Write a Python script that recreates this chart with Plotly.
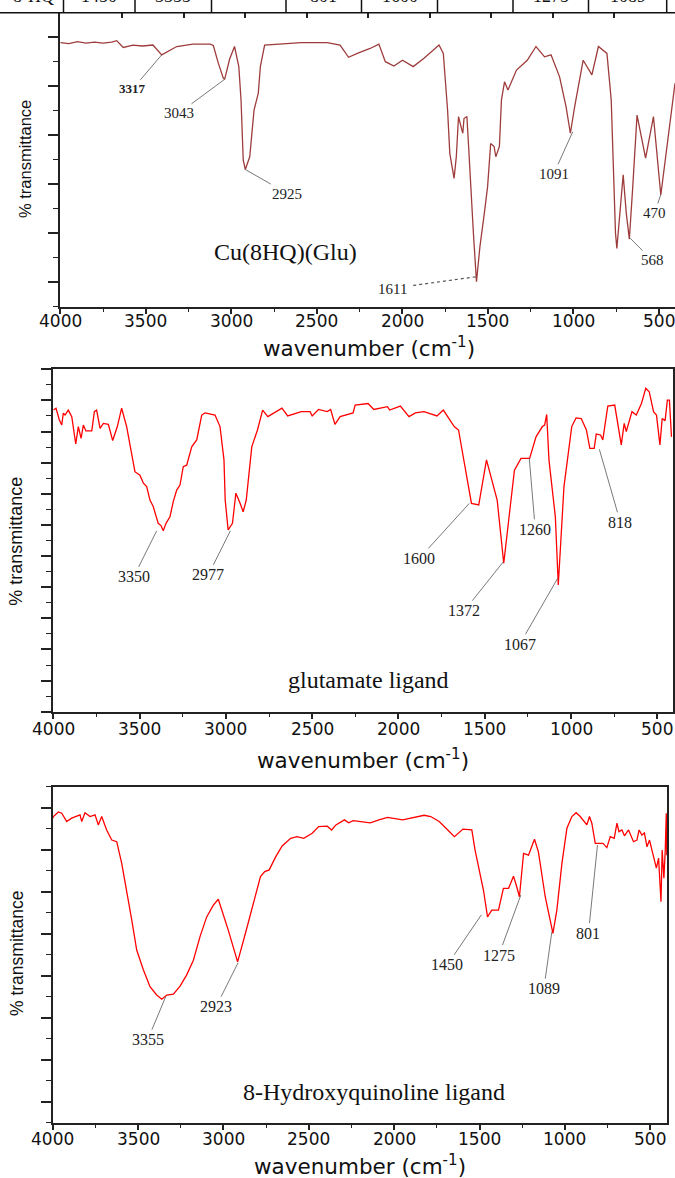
import numpy as np
import plotly.graph_objects as go

W, H = 675, 1178

# ---------------- data ----------------
# Cu(8HQ)(Glu) complex
cu_wn = [4000, 3950, 3900, 3850, 3800, 3750, 3700, 3670, 3632, 3600, 3575, 3520, 3458, 3407,
         3360, 3319, 3224, 3124, 3105, 3076, 3047, 3039, 3010, 2981, 2956, 2943, 2930, 2918,
         2892, 2867, 2842, 2830, 2805, 2700, 2591, 2439, 2364, 2314, 2263, 2188, 2137, 2099,
         2049, 1999, 1936, 1873, 1785, 1760, 1735, 1722, 1697, 1684, 1671, 1654, 1646, 1639,
         1622, 1613, 1596, 1584, 1566, 1546, 1520, 1501, 1483, 1463, 1453, 1432, 1420, 1402,
         1382, 1332, 1269, 1218, 1168, 1130, 1080, 1042, 1017, 992, 942, 891, 853, 803, 778,
         753, 745, 727, 708, 690, 672, 652, 627, 577, 531, 488, 405]
cu_t = [48.9, 48.7, 49.1, 48.8, 49.0, 48.8, 49.0, 49.3, 47.9, 48.2, 48.4, 48.2, 48.4, 46.4,
        47.4, 48.1, 48.6, 48.6, 48.3, 44.7, 41.7, 41.4, 45.5, 48.1, 44.0, 37.2, 24.9, 23.0,
        25.6, 35.1, 38.6, 44.0, 48.4, 48.7, 48.9, 48.9, 48.4, 45.9, 46.7, 47.7, 48.6, 45.0,
        44.1, 45.3, 44.0, 45.7, 48.4, 46.7, 35.1, 26.3, 21.2, 25.6, 33.8, 31.4, 30.4, 33.4,
        33.8, 28.3, 16.8, 10.0, 0.1, 7.2, 14.1, 19.5, 28.3, 27.7, 25.6, 27.7, 37.2, 40.9,
        39.2, 43.3, 45.3, 48.1, 46.0, 46.4, 41.9, 35.8, 30.4, 35.8, 45.3, 42.3, 48.1, 46.7, 37.2,
        10.0, 6.9, 14.1, 21.9, 14.1, 8.8, 19.5, 34.1, 25.3, 33.8, 17.8, 40.6]

# glutamate ligand
glu_wn = [4000, 3984, 3965, 3951, 3942, 3932, 3913, 3893, 3870, 3855, 3839, 3826, 3811, 3777,
          3762, 3749, 3729, 3710, 3681, 3656, 3629, 3604, 3575, 3546, 3527, 3498, 3478, 3459,
          3440, 3421, 3392, 3376, 3363, 3347, 3324, 3305, 3285, 3266, 3247, 3227, 3198, 3169,
          3140, 3121, 3092, 3063, 3034, 3018, 3011, 3004, 2987, 2962, 2942, 2917, 2900, 2882,
          2850, 2817, 2787, 2757, 2712, 2675, 2642, 2563, 2512, 2500, 2463, 2413, 2393, 2368,
          2338, 2263, 2251, 2176, 2143, 2064, 2051, 1989, 1939, 1902, 1852, 1777, 1740, 1702,
          1677, 1652, 1615, 1577, 1535, 1490, 1428, 1390, 1328, 1290, 1240, 1203, 1166, 1153,
          1141, 1128, 1091, 1074, 1041, 996, 971, 941, 911, 891, 866, 854, 829, 816, 787, 747,
          709, 692, 680, 647, 622, 592, 567, 547, 522, 505, 485, 472, 455, 442, 430, 418]
glu_t = [96.9, 97.5, 93.7, 92.1, 95.9, 95.3, 96.9, 94.8, 86.0, 91.6, 87.8, 92.1, 90.2, 90.2,
         96.4, 96.9, 91.0, 92.6, 92.3, 87.1, 91.6, 97.5, 91.6, 83.0, 77.1, 76.0, 73.4, 72.3,
         68.0, 65.9, 60.5, 59.8, 58.1, 60.5, 62.6, 67.5, 71.2, 72.8, 78.7, 79.2, 85.1, 87.3,
         95.3, 96.0, 95.6, 95.3, 91.6, 85.1, 80.9, 68.0, 58.4, 60.5, 70.2, 66.9, 64.2, 68.0,
         85.1, 90.5, 96.9, 94.8, 96.4, 97.5, 95.0, 96.4, 96.4, 95.0, 97.1, 96.4, 97.1, 92.3,
         94.8, 96.0, 98.5, 99.0, 97.1, 98.0, 96.9, 98.2, 94.8, 96.0, 96.4, 95.0, 96.9, 93.7,
         91.6, 90.5, 78.7, 66.9, 66.4, 80.9, 68.0, 47.7, 77.6, 81.4, 81.4, 88.3, 91.6, 92.1,
         95.5, 80.9, 62.6, 40.7, 72.3, 91.6, 94.4, 94.2, 90.5, 84.6, 84.6, 89.2, 88.9, 87.3, 98.2, 98.5,
         85.7, 92.6, 90.0, 96.4, 95.3, 99.0, 103.9, 102.8, 96.4, 95.3, 85.7, 94.2, 93.5, 100.1, 100.1, 88.3]

# 8-hydroxyquinoline ligand
hq_wn = [4000, 3996, 3967, 3947, 3918, 3889, 3840, 3830, 3811, 3781, 3752, 3733, 3713, 3684,
         3654, 3625, 3596, 3566, 3537, 3508, 3469, 3430, 3391, 3361, 3332, 3293, 3254, 3215,
         3176, 3137, 3098, 3059, 3030, 2972, 2917, 2871, 2820, 2783, 2758, 2732, 2694, 2656,
         2606, 2569, 2530, 2480, 2442, 2392, 2366, 2341, 2291, 2266, 2240, 2140, 2089, 2039,
         1950, 1900, 1824, 1786, 1736, 1686, 1647, 1597, 1560, 1545, 1526, 1496, 1477, 1453,
         1428, 1389, 1360, 1330, 1301, 1285, 1266, 1242, 1213, 1178, 1155, 1115, 1070, 1047,
         1017, 988, 959, 934, 910, 871, 856, 842, 822, 777, 754, 734, 711, 695, 683, 666, 651,
         627, 598, 578, 565, 549, 534, 519, 504, 490, 464, 451, 437, 430, 420, 412, 406, 403]
hq_t = [67.5, 67.9, 69.0, 68.7, 66.7, 67.5, 68.3, 66.7, 68.8, 67.9, 68.3, 65.9, 67.9, 64.7,
        62.3, 61.9, 56.8, 50.4, 43.3, 36.1, 31.4, 27.4, 25.4, 24.4, 25.4, 25.6, 27.5, 30.2,
        33.7, 39.3, 44.0, 46.8, 48.2, 40.9, 33.3, 40.1, 48.0, 53.6, 54.8, 55.2, 58.3, 60.9,
        62.7, 63.1, 62.7, 63.9, 65.5, 65.6, 64.7, 65.9, 67.1, 66.4, 66.9, 66.4, 67.1, 67.7,
        67.1, 67.5, 68.2, 67.9, 66.7, 64.7, 63.1, 64.9, 64.7, 64.7, 59.9, 53.6, 50.4, 44.0,
        45.6, 45.6, 50.8, 50.8, 53.7, 51.6, 48.8, 59.1, 58.7, 62.5, 59.5, 48.8, 40.1, 45.6,
        56.8, 65.1, 67.9, 68.8, 67.9, 65.9, 67.9, 66.3, 61.5, 61.5, 60.5, 63.1, 62.7, 66.3, 64.3, 64.7, 63.3,
        64.7, 61.9, 62.3, 64.7, 63.5, 64.0, 60.7, 62.3, 59.9, 55.6, 58.0, 47.6, 59.9, 53.2, 59.9, 68.7, 58.7]

# peak labels: text, wavenumber and transmittance where the leader line ends
cu_peak_labels = ["3317", "3043", "2925", "1611", "1091", "568", "470"]
cu_peak_wn = [3407, 3039, 2918, 1571, 1003, 668, 489]
cu_peak_t = [46.4, 41.4, 23.0, 1.1, 30.7, 9.0, 17.8]

glu_peak_labels = ["3350", "2977", "1600", "1372", "1260", "1067", "818"]
glu_peak_wn = [3401, 2974, 1590, 1392, 1242, 1077, 836]
glu_peak_t = [58.1, 58.1, 66.9, 48.2, 81.4, 42.9, 84.3]

hq_peak_labels = ["3355", "2923", "1450", "1275", "1089", "801"]
hq_peak_wn = [3338, 2914, 1489, 1258, 1076, 809]
hq_peak_t = [25.0, 33.1, 44.5, 49.2, 40.5, 61.1]

panel_titles = ["Cu(8HQ)(Glu)", "glutamate ligand", "8-Hydroxyquinoline ligand"]
x_title = "wavenumber (cm<sup>-1</sup>)"
y_title = "% transmittance"
x_tick_vals = [4000, 3500, 3000, 2500, 2000, 1500, 1000, 500]
x_tick_text = ["4000", "3500", "3000", "2500", "2000", "1500", "1000", "500"]
table_cells = ["8-HQ", "1450", "3355", "", "801", "1600", "", "1275", "1089"]
top_tick_wn = [3637, 3278, 2918, 2558, 2199, 1839, 1480, 1120, 760]

# ---------------- layout helpers (pixel positions) ----------------
def fx(p):
    return p / W


def fy(p):
    return 1 - p / H


SERIF = "Liberation Serif, Times New Roman, serif"
SANS = "DejaVu Sans, Verdana, sans-serif"
ARIAL = "Liberation Sans, Arial, sans-serif"

panels = [
    dict(x0=60.3, x1=675.0, y0=12.7, y1=306.7, xr=[4000, 405], yr=[-5, 55], color="#9e3c3c",
         lw=2.0, mirror=False, ylab_size=16.5, tick_y=321),
    dict(x0=53.3, x1=672.7, y0=369.3, y1=711.7, xr=[4000, 411], yr=[0, 110], color="#ff0000",
         lw=1.7, mirror=True, ylab_size=18, tick_y=729),
    dict(x0=52.7, x1=667.3, y0=786.7, y1=1122.7, xr=[4000, 400], yr=[-5, 75], color="#ff0000",
         lw=1.7, mirror=True, ylab_size=17.5, tick_y=1138.7),
]

fig = go.Figure()
annotations = []
shapes = []

series = [(cu_wn, cu_t), (glu_wn, glu_t), (hq_wn, hq_t)]
layout_axes = {}
for i, (p, (xs, ys)) in enumerate(zip(panels, series)):
    sfx = "" if i == 0 else str(i + 1)
    fig.add_trace(go.Scatter(x=xs, y=ys, mode="lines", xaxis="x" + sfx, yaxis="y" + sfx,
                             line=dict(color=p["color"], width=1.3), showlegend=False,
                             hoverinfo="skip"))
    layout_axes["xaxis" + sfx] = dict(
        domain=[fx(p["x0"]), fx(p["x1"])], range=p["xr"], anchor="y" + sfx, automargin=False,
        tickmode="array", tickvals=x_tick_vals, ticks="outside", ticklen=5, tickwidth=1.5,
        tickcolor="#222", showticklabels=False, showline=True, linecolor="#222",
        linewidth=p["lw"], mirror=p["mirror"], showgrid=False, zeroline=False,
        minor=dict(tickmode="linear", tick0=250, dtick=500, ticks="outside", ticklen=3,
                   tickwidth=1.3, tickcolor="#222", showgrid=False),
    )
    layout_axes["yaxis" + sfx] = dict(
        domain=[fy(p["y1"]), fy(p["y0"])], range=p["yr"], anchor="x" + sfx, automargin=False,
        tickmode="linear", tick0=0, dtick=10, ticks="outside", ticklen=10, tickwidth=1.5,
        tickcolor="#222", showticklabels=False, showline=True, linecolor="#222",
        linewidth=p["lw"], mirror=p["mirror"], showgrid=False, zeroline=False,
        minor=dict(tickmode="linear", tick0=5, dtick=10, ticks="outside", ticklen=5,
                   tickwidth=1.3, tickcolor="#222", showgrid=False),
    )
    # x tick labels
    for v, t in zip(x_tick_vals, x_tick_text):
        annotations.append(dict(text=t, x=v, xref="x" + sfx, y=fy(p["tick_y"]), yref="paper",
                                showarrow=False, xanchor="center", yanchor="middle",
                                font=dict(family=SANS, size=17, color="#111")))

# top ticks of the first panel
fig.add_trace(go.Scatter(x=[], y=[], xaxis="x4", yaxis="y", showlegend=False))
layout_axes["xaxis4"] = dict(
    domain=[fx(panels[0]["x0"]), fx(panels[0]["x1"])], range=panels[0]["xr"], overlaying="x",
    anchor="y", side="top", automargin=False, tickmode="array", tickvals=top_tick_wn,
    ticks="inside", ticklen=5, tickwidth=1.5, tickcolor="#222", showticklabels=False,
    showline=False, showgrid=False, zeroline=False)

fig.update_layout(**layout_axes)

# panel titles, axis titles
title_pos = [(285, 252), (368, 680), (374.5, 1091.7)]
xt_pos = [(369, 347), (362.7, 759), (359.5, 1165)]
yt_pos = [(25, 159), (15.8, 541), (17, 954)]
for i, p in enumerate(panels):
    annotations.append(dict(text=panel_titles[i], xref="paper", yref="paper",
                            x=fx(title_pos[i][0]), y=fy(title_pos[i][1]), showarrow=False,
                            xanchor="center", yanchor="middle",
                            font=dict(family=SERIF, size=24, color="#111")))
    annotations.append(dict(text=x_title, xref="paper", yref="paper",
                            x=fx(xt_pos[i][0]), y=fy(xt_pos[i][1]), showarrow=False,
                            xanchor="center", yanchor="middle",
                            font=dict(family=SANS, size=21.5, color="#111")))
    annotations.append(dict(text=y_title, xref="paper", yref="paper", textangle=-90,
                            x=fx(yt_pos[i][0]), y=fy(yt_pos[i][1]), showarrow=False,
                            xanchor="center", yanchor="middle",
                            font=dict(family=ARIAL, size=p["ylab_size"], color="#111")))

# peak labels with leader lines (offsets in pixels from leader end to label centre)
cu_off = [(-29, 34), (-46, 34), (42, 24), (-83, 12), (-19, 42), (22, 22), (-6, 18)]
glu_off = [(-23, 46), (-22, 44), (-50, 55), (-39, 49), (6, 71), (-38, 66), (21, 73)]
hq_off = [(-18, 43), (-22, 44), (-34, 50), (-22, 60), (-8, 57), (-9, 88)]

groups = [
    ("", cu_peak_labels, cu_peak_wn, cu_peak_t, cu_off, 15, "#555"),
    ("2", glu_peak_labels, glu_peak_wn, glu_peak_t, glu_off, 16, "#555"),
    ("3", hq_peak_labels, hq_peak_wn, hq_peak_t, hq_off, 16, "#555"),
]
for sfx, labels, wns, ts, offs, fs, col in groups:
    for lab, wn, t, (ax, ay) in zip(labels, wns, ts, offs):
        bold = (sfx == "" and lab == "3317")
        dotted = (sfx == "" and lab == "1611")
        annotations.append(dict(
            text=("<b>%s</b>" % lab) if bold else lab, x=wn, y=t, xref="x" + sfx, yref="y" + sfx,
            ax=ax, ay=ay, showarrow=True, arrowhead=0, arrowwidth=0.8,
            arrowcolor="rgba(0,0,0,0)" if dotted else col, standoff=0, startstandoff=0,
            font=dict(family=SERIF, size=13 if bold else fs, color="#222")))
        if dotted:
            shapes.append(dict(type="line", xref="x" + sfx, yref="y" + sfx,
                               xsizemode="pixel", ysizemode="pixel", xanchor=wn, yanchor=t,
                               x0=0, y0=0, x1=-65, y1=-9,
                               line=dict(color="#555", width=1.2, dash="dot")))

# clipped table row at the very top of the picture
table_edges = [63.5, 135, 211.5, 286, 361.5, 437.5, 513, 588.5, 666.7]
shapes.append(dict(type="line", xref="paper", yref="paper", x0=0, x1=1, y0=fy(12.7), y1=fy(12.7),
                   line=dict(color="#111", width=1.5)))
for e in table_edges:
    shapes.append(dict(type="line", xref="paper", yref="paper", x0=fx(e), x1=fx(e),
                       y0=fy(0), y1=fy(12.7), line=dict(color="#111", width=1.5)))
for k, txt in enumerate(table_cells):
    if not txt:
        continue
    if k == 0:
        annotations.append(dict(text=txt, xref="paper", yref="paper", x=fx(56), y=fy(-4),
                                xanchor="right", yanchor="middle", showarrow=False,
                                font=dict(family=SERIF, size=18, color="#111")))
    else:
        cx = (table_edges[k - 1] + table_edges[k]) / 2
        annotations.append(dict(text=txt, xref="paper", yref="paper", x=fx(cx), y=fy(-4),
                                xanchor="center", yanchor="middle", showarrow=False,
                                font=dict(family=SERIF, size=18, color="#111")))

fig.update_layout(
    template="none",
    width=W, height=H, margin=dict(l=0, r=0, t=0, b=0, pad=0),
    paper_bgcolor="white", plot_bgcolor="white",
    annotations=annotations, shapes=shapes, showlegend=False,
)

fig.write_html("out.html", config={"displayModeBar": False})
